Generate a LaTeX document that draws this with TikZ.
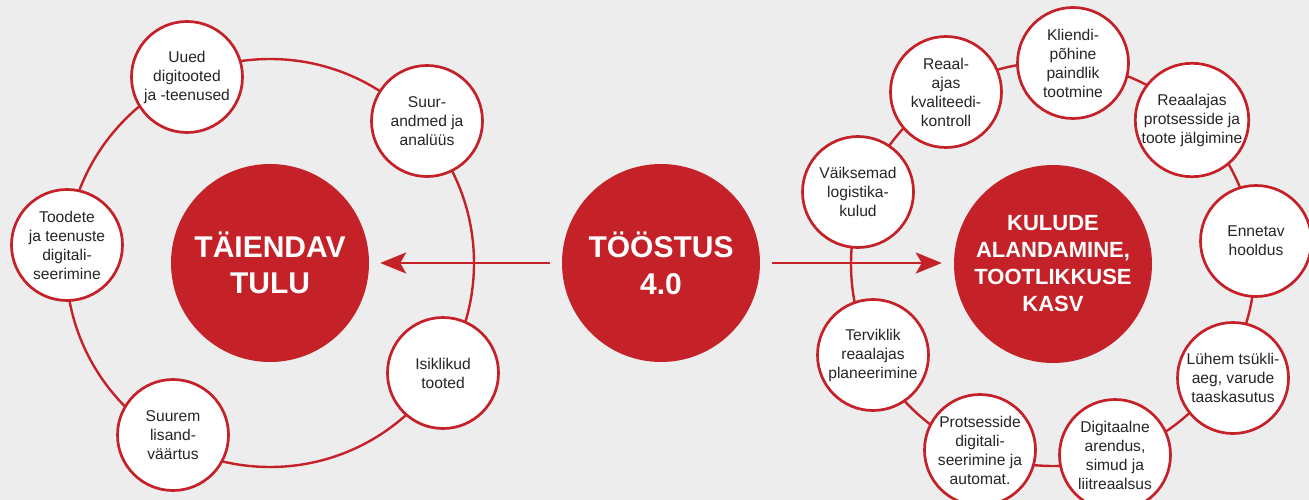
\documentclass[tikz,border=0pt]{standalone}
\usepackage{fontspec}
\setmainfont{Liberation Sans}
\usetikzlibrary{arrows.meta}
\definecolor{tred}{RGB}{196,33,40}
\definecolor{tbg}{RGB}{237,237,237}
\definecolor{tgray}{RGB}{40,36,37}
\begin{document}
\begin{tikzpicture}[x=1pt,y=-1pt,
  smallc/.style={circle, draw=tred, line width=2.7pt, fill=white, minimum size=111pt, inner sep=0pt,
    align=center, text=tgray, font=\fontsize{15.6}{19}\selectfont},
  bigc/.style={circle, fill=tred, minimum size=198pt, inner sep=0pt, align=center, text=white},
  ring/.style={draw=tred, line width=2.4pt},
  arr/.style={draw=tred, line width=2.8pt, -{Stealth[length=26pt, width=21pt, inset=6pt]}}
]
\useasboundingbox (0,0) rectangle (1309,500);
\fill[tbg] (0,0) rectangle (1309,500);
\clip (0,0) rectangle (1309,500);

% big circles
\node[bigc, font=\bfseries\fontsize{30}{36}\selectfont] (L) at (270,263) {TÄIENDAV\\TULU};
\node[bigc, font=\bfseries\fontsize{30}{37}\selectfont] (T) at (661,263) {TÖÖSTUS\\4.0};
\node[bigc, font=\bfseries\fontsize{22}{27}\selectfont] (K) at (1053,264) {KULUDE\\ALANDAMINE,\\TOOTLIKKUSE\\KASV};

% rings
\draw[ring] (L.center) circle[radius=204pt];
\draw[ring] (K.center) circle[radius=202pt];

% arrows
\draw[arr, shorten <=12pt, shorten >=11pt] (T.west) -- (L.east);
\draw[arr, shorten <=12pt, shorten >=12pt] (T.east) -- (K.west |- T.east);

% left ring nodes
\node[smallc] (l1) at (187,77) {Uued\\digitooted\\ja -teenused};
\node[smallc] (l2) at (427,121) {Suur-\\andmed ja\\analüüs};
\node[smallc] (l3) at (67,245) {Toodete\\ja teenuste\\digitali-\\seerimine};
\node[smallc] (l4) at (173,435) {Suurem\\lisand-\\väärtus};
\node[smallc] (l5) at (443,373) {Isiklikud\\tooted};

% right ring nodes
\node[smallc] (r1) at (858,192) {Väiksemad\\logistika-\\kulud};
\node[smallc] (r2) at (946,92) {Reaal-\\ajas\\kvaliteedi-\\kontroll};
\node[smallc] (r3) at (1073,63) {Kliendi-\\põhine\\paindlik\\tootmine};
\node[smallc] (r4) at (1192,120) {Reaalajas\\protsesside ja\\toote jälgimine};
\node[smallc] (r5) at (1256,241) {Ennetav\\hooldus};
\node[smallc] (r6) at (1233,378) {Lühem tsükli-\\aeg, varude\\taaskasutus};
\node[smallc] (r7) at (1115,455) {Digitaalne\\arendus,\\simud ja\\liitreaalsus};
\node[smallc] (r8) at (980,450) {Protsesside\\digitali-\\seerimine ja\\automat.};
\node[smallc] (r9) at (873,355) {Terviklik\\reaalajas\\planeerimine};
\end{tikzpicture}
\end{document}
